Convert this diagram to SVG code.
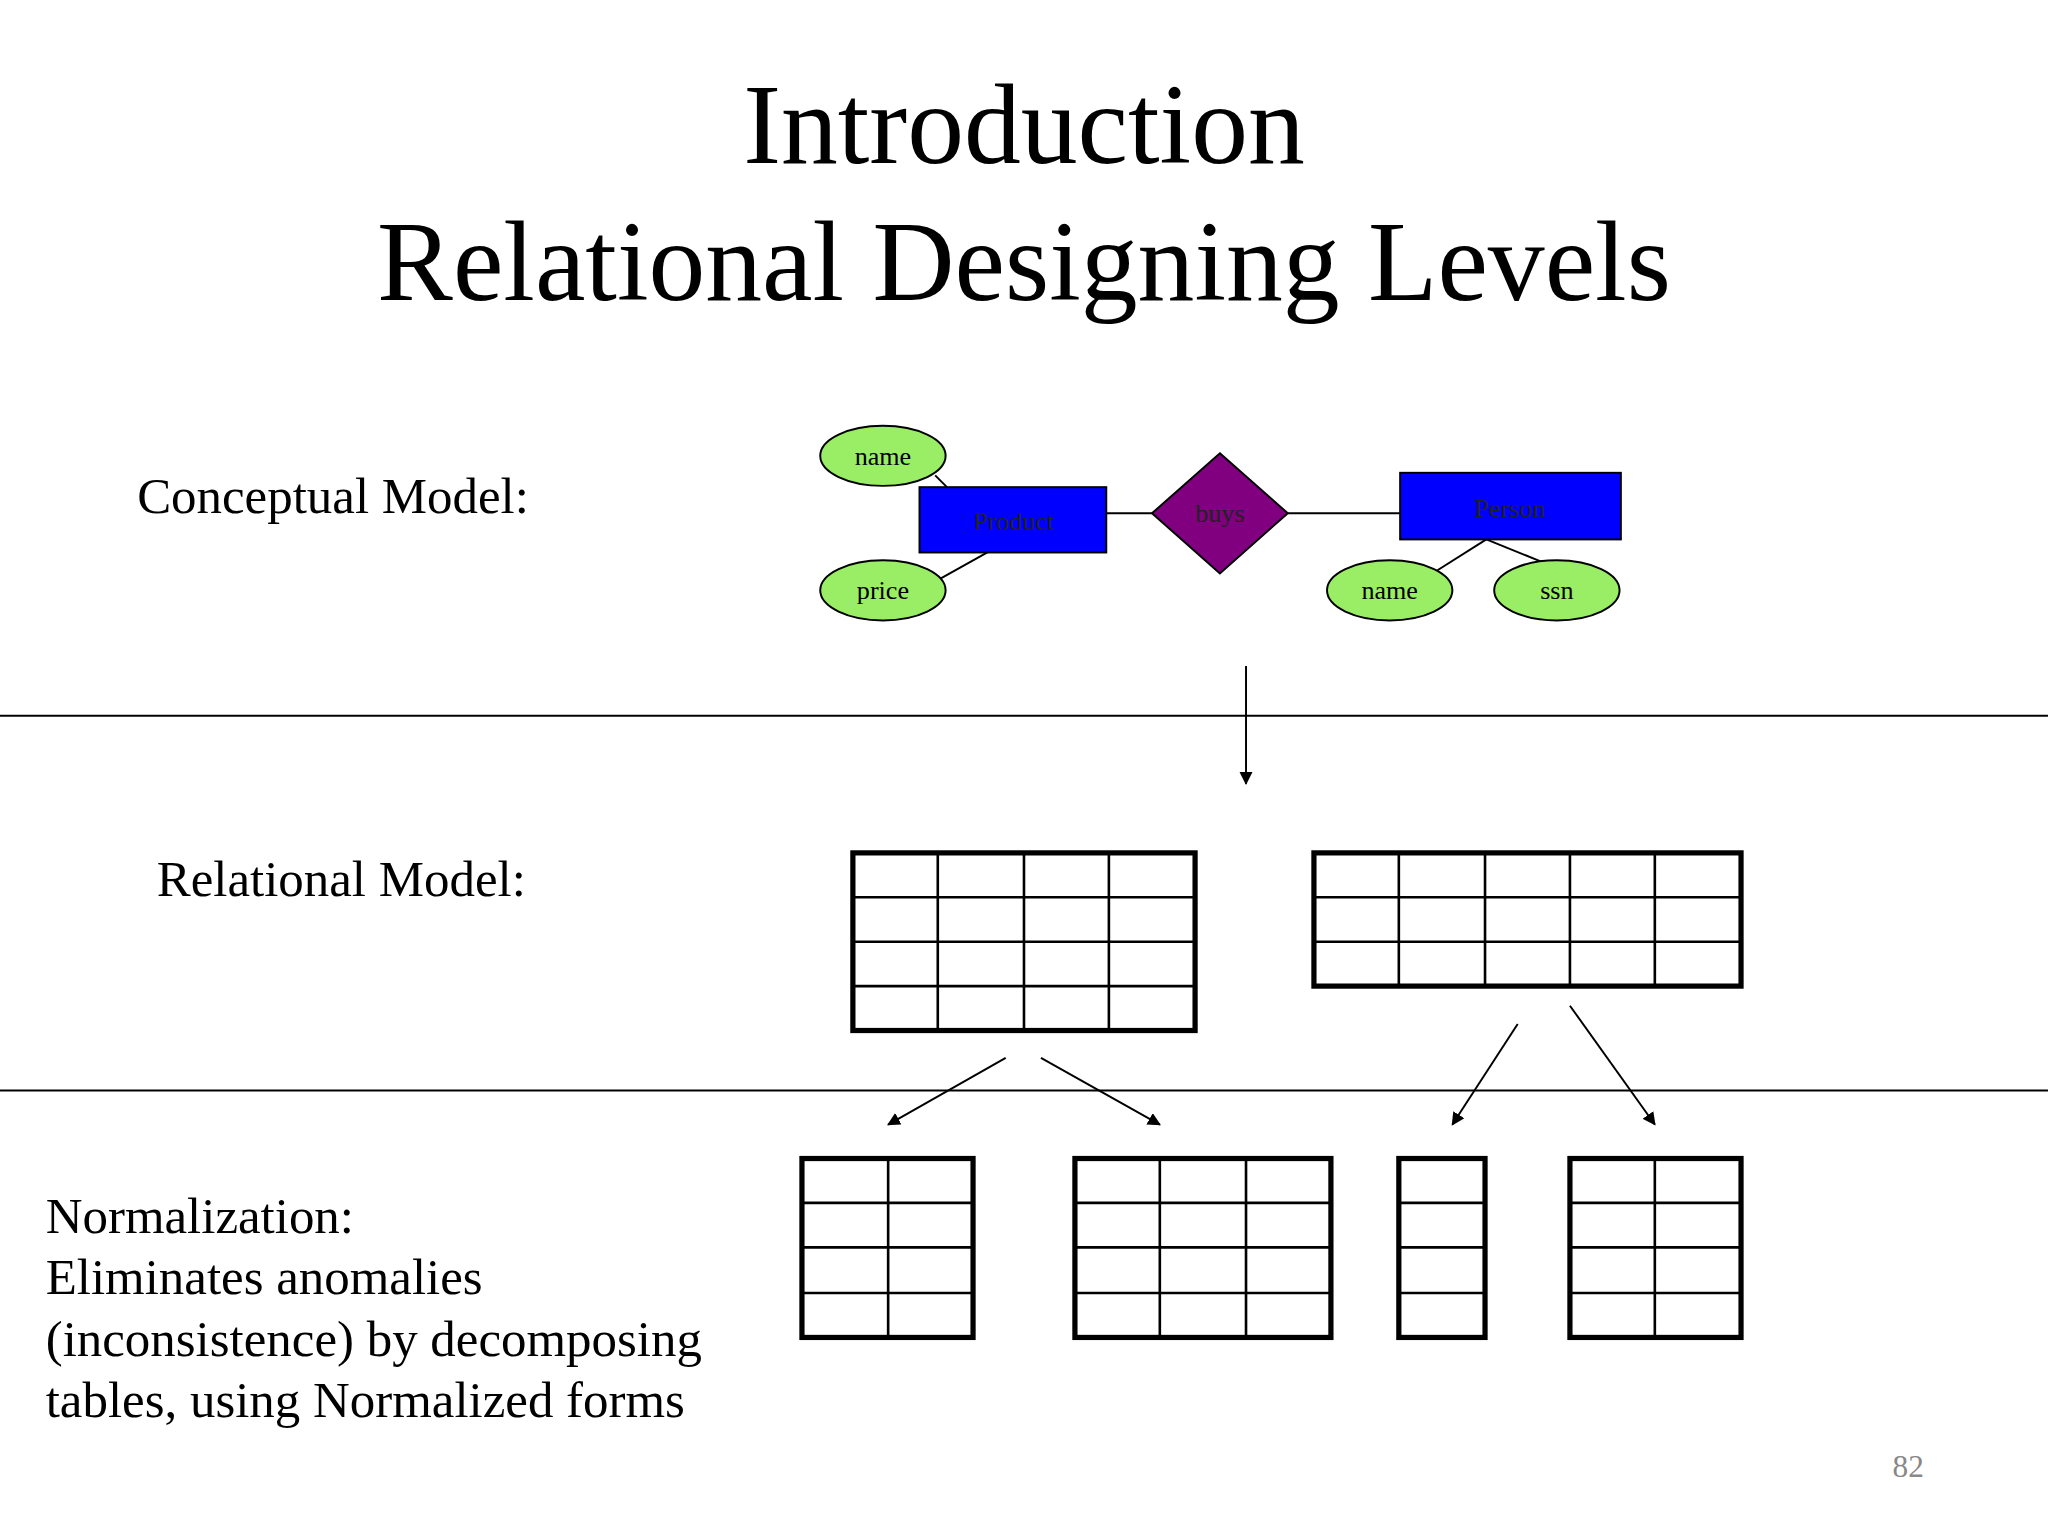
<svg xmlns="http://www.w3.org/2000/svg" width="2048" height="1536" viewBox="0 0 2048 1536">
<style>
text{font-family:"Liberation Serif","Times New Roman",serif;fill:#000}
.t{font-size:87px;text-anchor:middle}
.l{font-size:39px}
.s{font-size:20px;text-anchor:middle}
.ell{fill:#99ee66;stroke:#000;stroke-width:1.5}
.ent{fill:#0000ff;stroke:#000;stroke-width:1.5}
.ln{stroke:#000;stroke-width:1.5;fill:none}
.tb{stroke:#000;stroke-width:4;fill:#fff}
.tl{stroke:#000;stroke-width:2;fill:none}
</style>
<defs><marker id="ah" markerWidth="10" markerHeight="10" refX="9" refY="5" orient="auto" markerUnits="userSpaceOnUse"><path d="M0,0 L10,5 L0,10 z" fill="#000"/></marker></defs>
<rect width="2048" height="1536" fill="#fff"/>
<g transform="scale(1.3061)">
<text class="t" x="784" y="125">Introduction</text>
<text class="t" x="784" y="230">Relational Designing Levels</text>
<text class="l" x="105" y="393">Conceptual Model:</text>
<text class="l" x="120" y="686">Relational Model:</text>
<text class="l" x="35" y="944">Normalization:</text>
<text class="l" x="35" y="991">Eliminates anomalies</text>
<text class="l" x="35" y="1038">(inconsistence) by decomposing</text>
<text class="l" x="35" y="1085">tables, using Normalized forms</text>
<text x="1461" y="1131" style="font-size:24px;fill:#888;text-anchor:middle">82</text>
<g id="connectors">
<line class="ln" x1="716" y1="364" x2="725" y2="373"/>
<line class="ln" x1="720" y1="443" x2="756" y2="423"/>
<line class="ln" x1="847" y1="393" x2="882" y2="393"/>
<line class="ln" x1="986" y1="393" x2="1072" y2="393"/>
<line class="ln" x1="1138" y1="413" x2="1100" y2="437"/>
<line class="ln" x1="1138" y1="413" x2="1180" y2="430"/>
<line class="ln" x1="0" y1="548" x2="1568" y2="548"/>
<line class="ln" x1="0" y1="835" x2="1568" y2="835"/>
<line class="ln" x1="954" y1="510" x2="954" y2="600" marker-end="url(#ah)"/>
<line class="ln" x1="770" y1="810" x2="680" y2="861" marker-end="url(#ah)"/>
<line class="ln" x1="797" y1="810" x2="888" y2="861" marker-end="url(#ah)"/>
<line class="ln" x1="1162" y1="784" x2="1112" y2="861" marker-end="url(#ah)"/>
<line class="ln" x1="1202" y1="770" x2="1267" y2="861" marker-end="url(#ah)"/>
</g>
<g id="attr-name"><ellipse class="ell" cx="676" cy="349" rx="48" ry="23"/><text class="s" x="676" y="356">name</text></g>
<g id="attr-price"><ellipse class="ell" cx="676" cy="452" rx="48" ry="23"/><text class="s" x="676" y="459">price</text></g>
<g id="attr-pname"><ellipse class="ell" cx="1064" cy="452" rx="48" ry="23"/><text class="s" x="1064" y="459">name</text></g>
<g id="attr-ssn"><ellipse class="ell" cx="1192" cy="452" rx="48" ry="23"/><text class="s" x="1192" y="459">ssn</text></g>
<g id="product"><rect class="ent" x="704" y="373" width="143" height="50"/><text class="s" x="776" y="406" style="fill:#222">Product</text></g>
<g id="buys"><polygon points="934,347 986,393 934,439 882,393" fill="#800080" stroke="#000" stroke-width="1.5"/><text class="s" x="934" y="400" style="fill:#222">buys</text></g>
<g id="person"><rect class="ent" x="1072" y="362" width="169" height="51"/><text class="s" x="1156" y="396" style="fill:#222">Person</text></g>
<g id="table1"><rect class="tb" x="653" y="653" width="262" height="136"/><path class="tl" d="M718,653V789M784,653V789M849,653V789M653,687H915M653,721H915M653,755H915"/></g>
<g id="table2"><rect class="tb" x="1006" y="653" width="327" height="102"/><path class="tl" d="M1071,653V755M1137,653V755M1202,653V755M1267,653V755M1006,687H1333M1006,721H1333"/></g>
<g id="table3"><rect class="tb" x="614" y="887" width="131" height="137"/><path class="tl" d="M680,887V1024M614,921H745M614,955H745M614,990H745"/></g>
<g id="table4"><rect class="tb" x="823" y="887" width="196" height="137"/><path class="tl" d="M888,887V1024M954,887V1024M823,921H1019M823,955H1019M823,990H1019"/></g>
<g id="table5"><rect class="tb" x="1071" y="887" width="66" height="137"/><path class="tl" d="M1071,921H1137M1071,955H1137M1071,990H1137"/></g>
<g id="table6"><rect class="tb" x="1202" y="887" width="131" height="137"/><path class="tl" d="M1267,887V1024M1202,921H1333M1202,955H1333M1202,990H1333"/></g>
</g>
</svg>
